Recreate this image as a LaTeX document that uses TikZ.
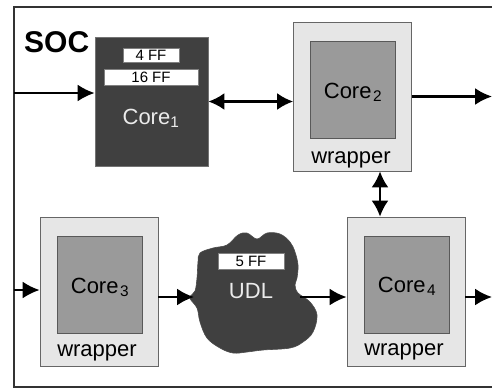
\documentclass[tikz,border=0pt]{standalone}
\usepackage{fontspec}
\setmainfont{Liberation Sans}
\usetikzlibrary{arrows.meta}

\definecolor{darkcore}{HTML}{404040}
\definecolor{wrapfill}{HTML}{E6E6E6}
\definecolor{innerfill}{HTML}{9A9A9A}

\tikzset{
  wrapbox/.style={draw=black!60,fill=wrapfill,line width=0.8bp,inner sep=0pt,
    minimum width=118bp,minimum height=149bp},
  innerbox/.style={draw=black!65,fill=innerfill,line width=0.8bp,inner sep=0pt,
    minimum width=85bp,minimum height=97bp},
  ffbox/.style={draw=black!50,fill=white,line width=0.6bp,inner sep=0pt,
    font=\fontsize{15bp}{16bp}\selectfont},
  lbl/.style={anchor=base,inner sep=0pt,font=\fontsize{22bp}{24bp}\selectfont},
  link/.style={line width=2.2bp,-{Latex[length=17bp,width=17bp]}},
  duplex/.style={line width=2.2bp,{Latex[length=16bp,width=17bp]}-{Latex[length=16bp,width=17bp]}},
}

\begin{document}
\begin{tikzpicture}[x=1bp,y=-1bp,>=Latex]
  \useasboundingbox (0,0) rectangle (492,390);

  % SOC frame, open on the right
  \draw[line width=1.2bp,black!80] (492,7) -- (14,7) -- (14,387) -- (492,387);
  \node[anchor=base west,inner sep=0pt,font=\fontsize{30bp}{32bp}\selectfont\bfseries] (soc) at (24,52) {SOC};

  % Core1 (no wrapper)
  \node[draw=black!55,fill=darkcore,line width=0.8bp,inner sep=0pt,
    minimum width=113bp,minimum height=129bp] (core1) at (151.5,101.5) {};
  \node[ffbox,minimum width=56bp,minimum height=14bp] (ff4) at (151,55) {4 FF};
  \node[ffbox,minimum width=94bp,minimum height=16bp] (ff16) at (151,77) {16 FF};
  \node[lbl,text=white!92!black] (core1lbl) at (151,124) {Core\textsubscript{1}};

  % wrapped cores
  \node[wrapbox] (wrap2) at (352.5,96.5) {};
  \node[innerbox] (core2) at (352.5,89.5) {};
  \node[lbl] (core2lbl) at (353,98) {Core\kern1.5bp\textsubscript{2}};
  \node[lbl] (wrap2lbl) at (351,163) {wrapper};

  \node[wrapbox] (wrap3) at (99,291.5) {};
  \node[innerbox] (core3) at (99.5,284.5) {};
  \node[lbl] (core3lbl) at (100,293) {Core\kern1.5bp\textsubscript{3}};
  \node[lbl] (wrap3lbl) at (97,356) {wrapper};

  \node[wrapbox] (wrap4) at (406,291.5) {};
  \node[innerbox] (core4) at (406.5,284.5) {};
  \node[lbl] (core4lbl) at (407,292) {Core\kern1.5bp\textsubscript{4}};
  \node[lbl] (wrap4lbl) at (404,355) {wrapper};

  % UDL blob
  \fill[darkcore,draw=black!70,line width=0.6bp] plot[smooth cycle,tension=0.6] coordinates {
    (200,253) (213,248) (227,245) (238,235) (247,233) (257,239) (267,233)
    (280,234) (290,242) (295,252) (298,265) (297,278) (295,285) (298,293)
    (310,302) (317,315) (313,332) (303,342) (290,348) (263,350) (247,352)
    (233,353) (220,348) (207,338) (200,322) (197,308) (190,298) (195,291)
    (197,278) (198,262)};
  \node[ffbox,minimum width=66bp,minimum height=16bp] (ff5) at (251,261) {5 FF};
  \node[lbl,text=white!92!black] (udl) at (251,298) {UDL};
  \coordinate (udlin) at (194,297);
  \coordinate (udlout) at (300,297);

  % free ends at the frame and the picture border
  \coordinate (in1) at (14,93);
  \coordinate (in3) at (14,290);
  \coordinate (out2) at (492,96.5);
  \coordinate (out4) at (492,297);

  % connections
  \draw[link] (in1) -- (in1 -| core1.west);
  \draw[duplex] (core1.east) -- (core1.east -| wrap2.west);
  \draw[link] (wrap2.east) -- (out2);
  \draw[duplex] ([xshift=27.5bp]wrap2.south) -- ([xshift=27.5bp]wrap2.south |- wrap4.north);
  \draw[link] (in3) -- (in3 -| wrap3.west);
  \draw[link] (udlin -| wrap3.east) -- (udlin);
  \draw[link] (udlout) -- (udlout -| wrap4.west);
  \draw[link] (out4 -| wrap4.east) -- (out4);
\end{tikzpicture}
\end{document}
